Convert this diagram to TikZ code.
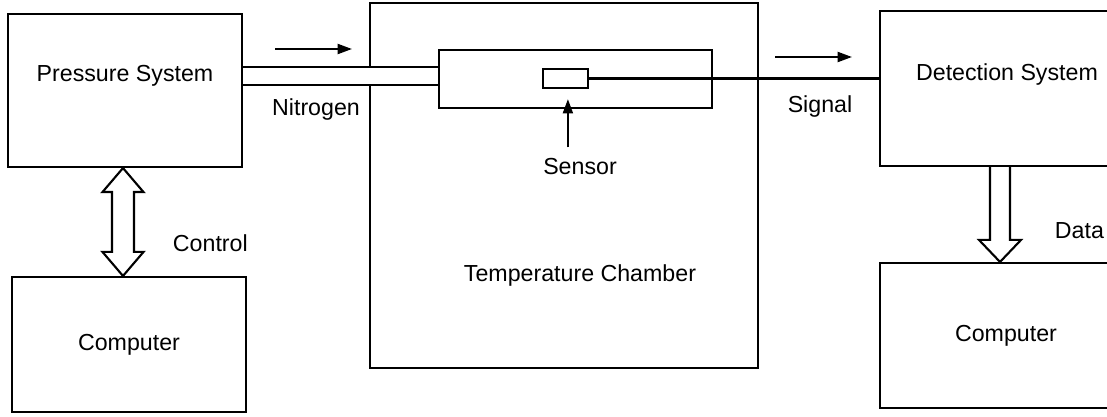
\documentclass[tikz,border=0pt]{standalone}
\usepackage{fontspec}
\setmainfont{Liberation Sans}
\usepackage{tikz}
\usetikzlibrary{arrows.meta, positioning, calc}
\tikzset{
    % Boxes
    sysbox/.style={rectangle, draw=black, line width=1.5pt, fill=white,
                inner sep=0pt, font=\fontsize{16.5}{19}\selectfont},
    boxlbl/.style={font=\fontsize{16.5}{19}\selectfont},
    pipebox/.style={rectangle, draw=black, line width=1.5pt, fill=white, inner sep=0pt},
    % Connectors
    flowarrow/.style={-{Triangle[length=3.6mm, width=2.5mm]}, line width=1.5pt},
    wire/.style={line width=1.5pt},
    blockarrow/.style={line width=1.5pt, fill=white, line join=miter},
}
\begin{document}
\begin{tikzpicture}
\useasboundingbox (0,0) rectangle (27.675,10.425);
\clip (0,0) rectangle (27.675,10.425);

% Pressure side
\node[sysbox, minimum width=5.85cm, minimum height=3.825cm,
      label={[boxlbl, yshift=0.36cm]center:Pressure System}] (press) at (3.125,8.1625) {};
\node[sysbox, minimum width=5.85cm, minimum height=3.375cm] (comp1) at (3.225,1.8125) {Computer};

% Temperature chamber
\node[sysbox, minimum width=9.7cm, minimum height=9.125cm] (chamber) at (14.1,5.7875) {};
\node[boxlbl] (chamberlbl) at (14.5,3.525) {Temperature Chamber};
\node[pipebox, minimum width=6.825cm, minimum height=1.45cm] (tube) at (14.3875,8.45) {};
\node[pipebox, minimum width=4.925cm, minimum height=0.45cm] (pipe) at (8.5125,8.525) {};
\node[pipebox, minimum width=1.125cm, minimum height=0.475cm] (sensor) at (14.1375,8.4625) {};

% Detection side
\node[sysbox, minimum width=6.35cm, minimum height=3.875cm,
      label={[boxlbl, yshift=0.34cm]center:Detection System}] (det) at (25.175,8.2125) {};
\node[sysbox, minimum width=6.3cm, minimum height=3.625cm] (comp2) at (25.15,2.0375) {Computer};

% Labels
\node[boxlbl] (nitrolbl) at (7.9,7.675) {Nitrogen};
\node[boxlbl] (signallbl) at (20.5,7.75) {Signal};
\node[boxlbl] (senslbl) at (14.5,6.25) {Sensor};
\node[boxlbl, anchor=west] (ctllbl) at (4.2,4.35) {Control};
\node[boxlbl, anchor=west] (datalbl) at (26.25,4.65) {Data};

% Flow arrows
\coordinate (n1) at (6.875,9.2);
\coordinate (n2) at (8.8,9.2);
\coordinate (s1) at (19.375,9.0);
\coordinate (s2) at (21.3,9.0);
\draw[flowarrow] (n1) -- (n2);
\draw[flowarrow] (s1) -- (s2);
\draw[flowarrow, shorten >=0.25cm, shorten <=0.16cm]
    ([xshift=0.06cm]sensor.south |- senslbl.north) -- ([xshift=0.06cm]sensor.south);

% Sensor wire
\draw[wire] (sensor.east) -- (sensor.east -| det.west);

% Control (two-way)
\coordinate (ctl) at (3.075,0);
\draw[blockarrow] (ctl |- press.south) -- ++(0.5125,-0.6) -- ++(-0.2375,0)
    -- ($(ctl |- comp1.north)+(0.275,0.6)$) -- ++(0.2375,0) -- (ctl |- comp1.north)
    -- ++(-0.5125,0.6) -- ++(0.2375,0)
    -- ($(ctl |- press.south)+(-0.275,-0.6)$) -- ++(-0.2375,0) -- cycle;

% Data
\coordinate (dat) at (25.0,0);
\draw[blockarrow] ($(dat |- det.south)+(-0.25,0)$) -- ($(dat |- comp2.north)+(-0.25,0.55)$)
    -- ++(-0.275,0) -- (dat |- comp2.north) -- ++(0.525,0.55) -- ++(-0.275,0)
    -- ($(dat |- det.south)+(0.25,0)$);

\end{tikzpicture}
\end{document}
